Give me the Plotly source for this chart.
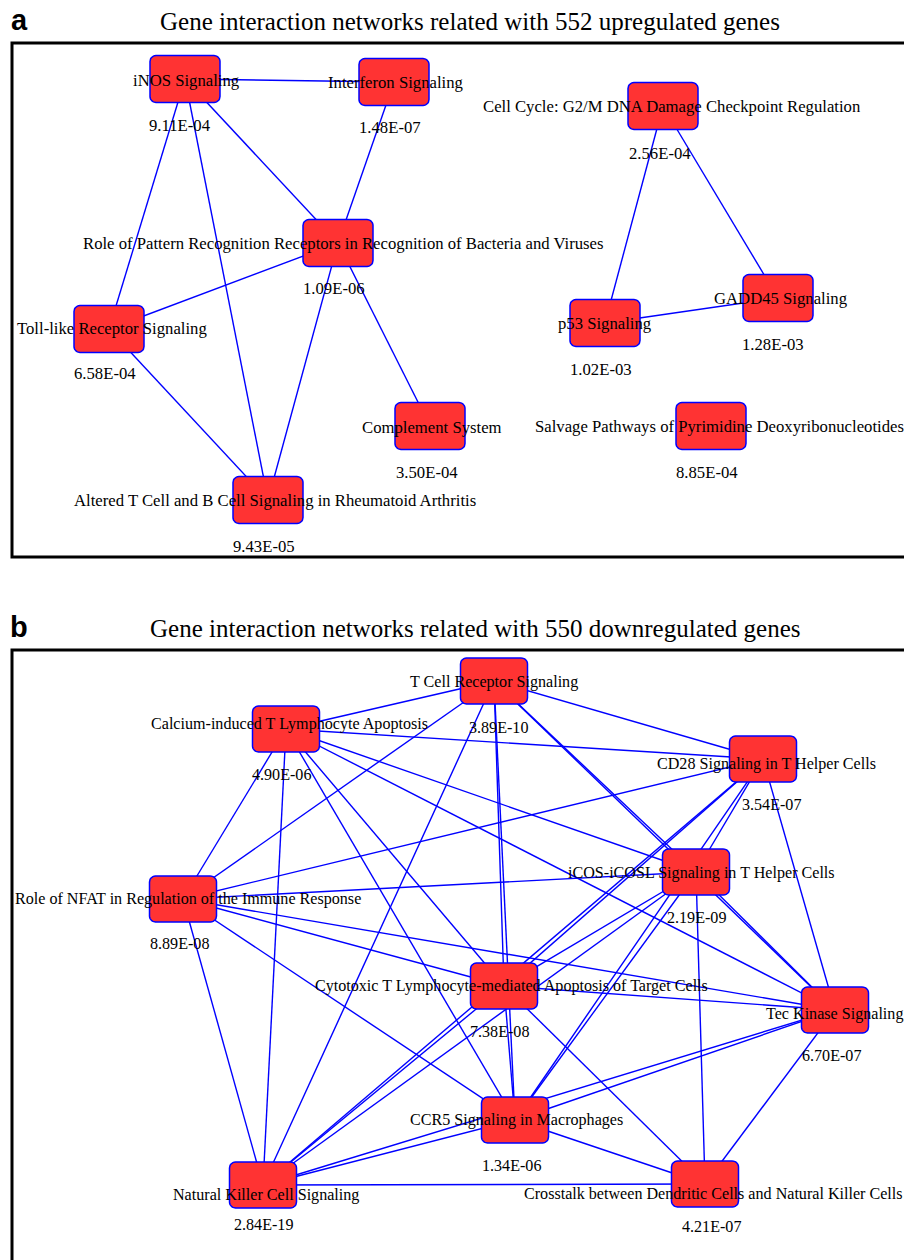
import numpy as np
import plotly.graph_objects as go

# ---------------- DATA ----------------
# Panel a: upregulated genes
up_names = [
    "iNOS Signaling",
    "Interferon Signaling",
    "Role of Pattern Recognition Receptors in Recognition of Bacteria and Viruses",
    "Toll-like Receptor Signaling",
    "Complement System",
    "Altered T Cell and B Cell Signaling in Rheumatoid Arthritis",
    "Cell Cycle: G2/M DNA Damage Checkpoint Regulation",
    "GADD45 Signaling",
    "p53 Signaling",
    "Salvage Pathways of Pyrimidine Deoxyribonucleotides",
]
up_pvalues = ["9.11E-04", "1.48E-07", "1.09E-06", "6.58E-04", "3.50E-04",
              "9.43E-05", "2.56E-04", "1.28E-03", "1.02E-03", "8.85E-04"]
up_x = [185, 394, 338, 109, 430, 268, 663, 778, 605, 711]
up_y = [79, 82, 243, 329, 426, 500, 106, 298, 323, 426]
up_edges = [(0, 1), (0, 3), (0, 5), (0, 2), (1, 2), (2, 3), (2, 5), (2, 4),
            (3, 5), (6, 8), (6, 7), (8, 7)]

# Panel b: downregulated genes
down_names = [
    "T Cell Receptor Signaling",
    "Calcium-induced T Lymphocyte Apoptosis",
    "CD28 Signaling in T Helper Cells",
    "iCOS-iCOSL Signaling in T Helper Cells",
    "Role of NFAT in Regulation of the Immune Response",
    "Cytotoxic T Lymphocyte-mediated Apoptosis of Target Cells",
    "Tec Kinase Signaling",
    "CCR5 Signaling in Macrophages",
    "Natural Killer Cell Signaling",
    "Crosstalk between Dendritic Cells and Natural Killer Cells",
]
down_pvalues = ["3.89E-10", "4.90E-06", "3.54E-07", "2.19E-09", "8.89E-08",
                "7.38E-08", "6.70E-07", "1.34E-06", "2.84E-19", "4.21E-07"]
down_x = [494, 286, 763, 696, 183, 504, 835, 515, 263, 705]
down_y = [681, 729, 759, 872, 899, 986, 1010, 1120, 1185, 1184]
down_edges = [
    (0, 1), (0, 4), (0, 8), (0, 5), (0, 7), (0, 2), (0, 3), (0, 6),
    (1, 2), (1, 3), (1, 6), (1, 4), (1, 8), (1, 7), (1, 5),
    (4, 2), (4, 3), (4, 6), (4, 5), (4, 7), (4, 8),
    (2, 3), (2, 7), (2, 5), (2, 8), (2, 6),
    (3, 6), (3, 7), (3, 5), (3, 8), (3, 9),
    (5, 6), (5, 7), (5, 8), (5, 9),
    (7, 8), (7, 6), (7, 9),
    (8, 6), (8, 9),
    (6, 9),
]

titles = ["Gene interaction networks related with 552 upregulated genes",
          "Gene interaction networks related with 550 downregulated genes"]
panel_letters = ["a", "b"]

# ---------------- LAYOUT / STYLE ----------------
W, H = 904, 1260
NODE_FILL = "#FF3333"
BLUE = "#0000FF"
SERIF = "Liberation Serif, Times New Roman, serif"

up_label_off = [(1, 1), (2, 0), (5, 0), (3, -1), (2, 1), (7, 0), (9, 0), (3, 0), (0, 0), (8, 0)]
up_p_off = [(-5, 46), (-4, 45), (-4, 45), (-4, 44), (-3, 46), (-4, 46), (-3, 47), (-5, 46), (-4, 46), (-4, 46)]
down_label_off = [(0, 1), (3, -5), (3, 5), (5, 1), (5, 0), (7, 0), (-1, 4), (1, 0), (3, 10), (8, 9)]
down_p_off = [(4, 46), (-5, 45), (8, 45), (0, 45), (-4, 44), (-5, 45), (-4, 45), (-4, 45), (0, 39), (6, 42)]

panels = [
    dict(names=up_names, pv=up_pvalues, x=up_x, y=up_y, edges=up_edges,
         loff=up_label_off, poff=up_p_off, nw=70, nh=47, fs=16.7,
         frame=(12, 43, 904, 557), title_xy=(470, 21), letter_xy=(19, 20)),
    dict(names=down_names, pv=down_pvalues, x=down_x, y=down_y, edges=down_edges,
         loff=down_label_off, poff=down_p_off, nw=67, nh=46, fs=16.1,
         frame=(12, 650, 904, 1262), title_xy=(475, 628), letter_xy=(19, 627)),
]


def rounded_rect(cx, cy, w, h, r=6, n=8):
    xs, ys = [], []
    corners = [(cx + w / 2 - r, cy - h / 2 + r, -90, 0),
               (cx + w / 2 - r, cy + h / 2 - r, 0, 90),
               (cx - w / 2 + r, cy + h / 2 - r, 90, 180),
               (cx - w / 2 + r, cy - h / 2 + r, 180, 270)]
    for (ox, oy, a0, a1) in corners:
        t = np.radians(np.linspace(a0, a1, n))
        xs.extend(ox + r * np.cos(t))
        ys.extend(oy + r * np.sin(t))
    xs.append(xs[0])
    ys.append(ys[0])
    return xs, ys


fig = go.Figure()
annotations = []
shapes = []

for i, p in enumerate(panels):
    # frame: left, top and bottom sides (right side lies beyond the picture)
    x0, y0, x1, y1 = p["frame"]
    shapes.append(dict(type="path", xref="x", yref="y",
                       path=f"M {x1},{y0} L {x0},{y0} L {x0},{y1} L {x1},{y1}",
                       line=dict(color="black", width=3), layer="below"))
    # edges
    ex, ey = [], []
    for a, b in p["edges"]:
        ex += [p["x"][a], p["x"][b], None]
        ey += [p["y"][a], p["y"][b], None]
    fig.add_trace(go.Scatter(x=ex, y=ey, mode="lines",
                             line=dict(color=BLUE, width=1.4),
                             hoverinfo="skip", showlegend=False))
    # nodes
    for k in range(len(p["names"])):
        rx, ry = rounded_rect(p["x"][k], p["y"][k], p["nw"], p["nh"])
        fig.add_trace(go.Scatter(x=rx, y=ry, mode="lines", fill="toself",
                                 fillcolor=NODE_FILL,
                                 line=dict(color=BLUE, width=1.5),
                                 hoverinfo="text", text=p["names"][k],
                                 showlegend=False))
    # labels
    for k in range(len(p["names"])):
        dx, dy = p["loff"][k]
        annotations.append(dict(x=p["x"][k] + dx, y=p["y"][k] + dy, text=p["names"][k],
                                showarrow=False, xanchor="center", yanchor="middle",
                                font=dict(family=SERIF, size=p["fs"], color="black")))
        dx, dy = p["poff"][k]
        annotations.append(dict(x=p["x"][k] + dx, y=p["y"][k] + dy, text=p["pv"][k],
                                showarrow=False, xanchor="center", yanchor="middle",
                                font=dict(family=SERIF, size=p["fs"], color="black")))
    # title and panel letter
    tx, ty = p["title_xy"]
    annotations.append(dict(x=tx, y=ty, text=titles[i], showarrow=False,
                            xanchor="center", yanchor="middle",
                            font=dict(family=SERIF, size=25, color="black")))
    lx, ly = p["letter_xy"]
    annotations.append(dict(x=lx, y=ly, text="<b>" + panel_letters[i] + "</b>",
                            showarrow=False, xanchor="center", yanchor="middle",
                            font=dict(family="Liberation Sans, Arial, sans-serif",
                                      size=29, color="black")))

fig.update_layout(
    width=W, height=H, autosize=False,
    margin=dict(l=0, r=0, t=0, b=0),
    paper_bgcolor="white", plot_bgcolor="white",
    xaxis=dict(range=[0, W], visible=False, fixedrange=True),
    yaxis=dict(range=[H, 0], visible=False, fixedrange=True),
    annotations=annotations, shapes=shapes, showlegend=False,
)

fig.write_html(
    "out.html",
    config={"displayModeBar": False},
    post_script="document.body.style.margin='0';document.body.style.overflow='hidden';",
)
